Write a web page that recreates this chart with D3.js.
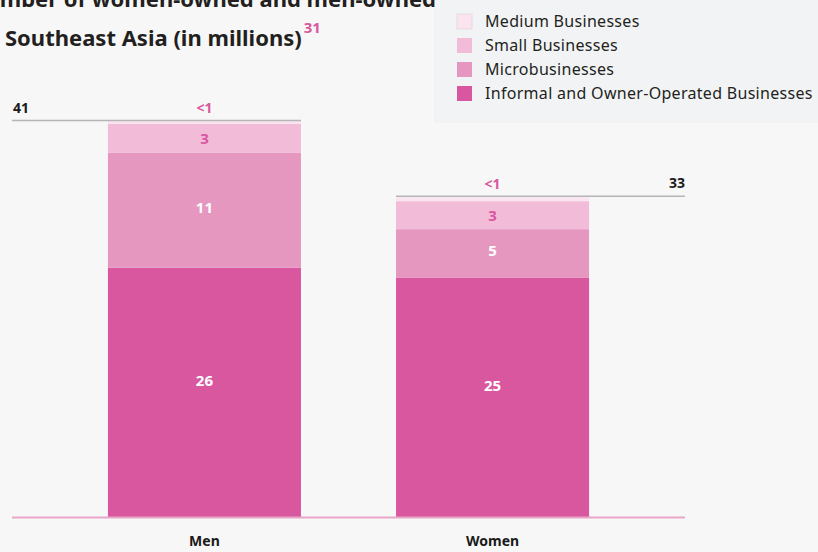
<!DOCTYPE html>
<html>
<head>
<meta charset="utf-8">
<script src="https://cdn.jsdelivr.net/npm/d3@7/dist/d3.min.js"></script>
<style>
  html, body { margin: 0; padding: 0; background: #f7f7f7; }
  svg { display: block; font-family: "Noto Sans", "Open Sans", sans-serif; }
</style>
</head>
<body>
<svg id="chart" width="818" height="552"></svg>
<script>
// ---- data ----
const categories = ["Men", "Women"];
const seriesNames = ["Informal and Owner-Operated Businesses", "Microbusinesses", "Small Businesses", "Medium Businesses"];
const informal = [25.8, 24.8];
const micro = [11.9, 5.0];
const small = [3.0, 2.9];
const medium = [0.3, 0.4];
const informalLabels = ["26", "25"];
const microLabels = ["11", "5"];
const smallLabels = ["3", "3"];
const mediumLabels = ["<1", "<1"];
const totals = ["41", "33"];
const titleLine1 = "Number of women-owned and men-owned";
const titleLine2 = "Southeast Asia (in millions)";
const footnote = "31";

// ---- styles ----
const colors = ["#d9579f", "#e597c0", "#f2bbd7", "#fae4ef"];
const labelColors = ["#ffffff", "#ffffff", "#d9579f", "#d9579f"];
const labelShift = [-12, -3, 0];
const legendOrder = [3, 2, 1, 0];

const svg = d3.select("#chart");
const W = 818, H = 552;
svg.append("rect").attr("width", W).attr("height", H).attr("fill", "#f7f7f7");

// legend background
svg.append("rect").attr("x", 434).attr("y", 0).attr("width", W - 434).attr("height", 123).attr("fill", "#f2f3f5");

const seriesValues = [informal, micro, small, medium];
const seriesLabels = [informalLabels, microLabels, smallLabels, mediumLabels];
const rows = categories.map((c, i) => {
  const r = { cat: c };
  seriesNames.forEach((s, k) => r[s] = seriesValues[k][i]);
  return r;
});
const stacked = d3.stack().keys(seriesNames)(rows);

const x = d3.scaleBand().domain(categories).range([12, 685]).paddingInner(0.33).paddingOuter(0.333);
const y = d3.scaleLinear().domain([0, 41]).range([517, 121]);

// bars
const g = svg.append("g");
stacked.forEach((layer, k) => {
  g.selectAll(null).data(layer).join("rect")
    .attr("x", d => x(d.data.cat))
    .attr("width", x.bandwidth())
    .attr("y", d => y(d[1]))
    .attr("height", d => y(d[0]) - y(d[1]))
    .attr("fill", colors[k]);
});

// segment labels (not medium)
[0, 1, 2].forEach(k => {
  g.selectAll(null).data(stacked[k]).join("text")
    .attr("x", d => x(d.data.cat) + x.bandwidth() / 2)
    .attr("y", d => (y(d[0]) + y(d[1])) / 2 + labelShift[k])
    .attr("dy", "0.36em")
    .attr("text-anchor", "middle")
    .attr("font-size", 15)
    .attr("font-weight", "bold")
    .attr("fill", labelColors[k])
    .text((d, i) => seriesLabels[k][i]);
});

// medium labels above bars
g.selectAll(null).data(stacked[3]).join("text")
  .attr("x", d => x(d.data.cat) + x.bandwidth() / 2)
  .attr("y", d => y(d[1]) - 8)
  .attr("text-anchor", "middle")
  .attr("font-size", 14)
  .attr("font-weight", "bold")
  .attr("fill", "#d9579f")
  .text((d, i) => seriesLabels[3][i]);

// total lines
const topLayer = stacked[3];
svg.append("line")
  .attr("x1", 12).attr("x2", x("Men") + x.bandwidth())
  .attr("y1", y(topLayer[0][1]) - 0.5).attr("y2", y(topLayer[0][1]) - 0.5)
  .attr("stroke", "#b5b5b5").attr("stroke-width", 1.5);
svg.append("text").attr("x", 13).attr("y", y(topLayer[0][1]) - 8)
  .attr("font-size", 14).attr("font-weight", "bold").attr("fill", "#1a1a1a").text(totals[0]);
svg.append("line")
  .attr("x1", x("Women")).attr("x2", 685)
  .attr("y1", y(topLayer[1][1]) - 1).attr("y2", y(topLayer[1][1]) - 1)
  .attr("stroke", "#b5b5b5").attr("stroke-width", 1.5);
svg.append("text").attr("x", 685).attr("y", y(topLayer[1][1]) - 9)
  .attr("text-anchor", "end")
  .attr("font-size", 14).attr("font-weight", "bold").attr("fill", "#1a1a1a").text(totals[1]);

// baseline
svg.append("line").attr("x1", 12).attr("x2", 685).attr("y1", y(0) + 0.5).attr("y2", y(0) + 0.5)
  .attr("stroke", "#e8a6c9").attr("stroke-width", 2);

// x axis labels
const xAxis = svg.append("g").attr("transform", `translate(0,${y(0)})`)
  .call(d3.axisBottom(x).tickSize(0).tickPadding(19));
xAxis.select(".domain").remove();
xAxis.selectAll("text").attr("font-size", 14).attr("font-weight", "bold").attr("fill", "#1a1a1a")
  .attr("font-family", "'Noto Sans', sans-serif");

// title
svg.append("text").attr("x", 436).attr("y", 7).attr("text-anchor", "end")
  .attr("font-size", 22).attr("font-weight", "bold").attr("fill", "#231f20").text(titleLine1);
const t2 = svg.append("text").attr("x", 5).attr("y", 46)
  .attr("font-size", 22).attr("font-weight", "bold").attr("fill", "#231f20");
t2.append("tspan").text(titleLine2);
t2.append("tspan").attr("dx", 2).attr("dy", -13).attr("font-size", 15).attr("fill", "#d9579f").text(footnote);

// legend
const lg = svg.append("g");
legendOrder.forEach((k, i) => {
  const cy = 21.5 + i * 24;
  lg.append("rect").attr("x", 457).attr("y", cy - 7.5).attr("width", 15).attr("height", 15)
    .attr("fill", colors[k]).attr("stroke", k === 3 ? "#e3d5dc" : "none").attr("stroke-width", 0.8);
  lg.append("text").attr("x", 485).attr("y", cy).attr("dy", "0.36em")
    .attr("font-size", 16).attr("fill", "#231f20").attr("letter-spacing", 0.3)
    .text(seriesNames[k]);
});
</script>
</body>
</html>
